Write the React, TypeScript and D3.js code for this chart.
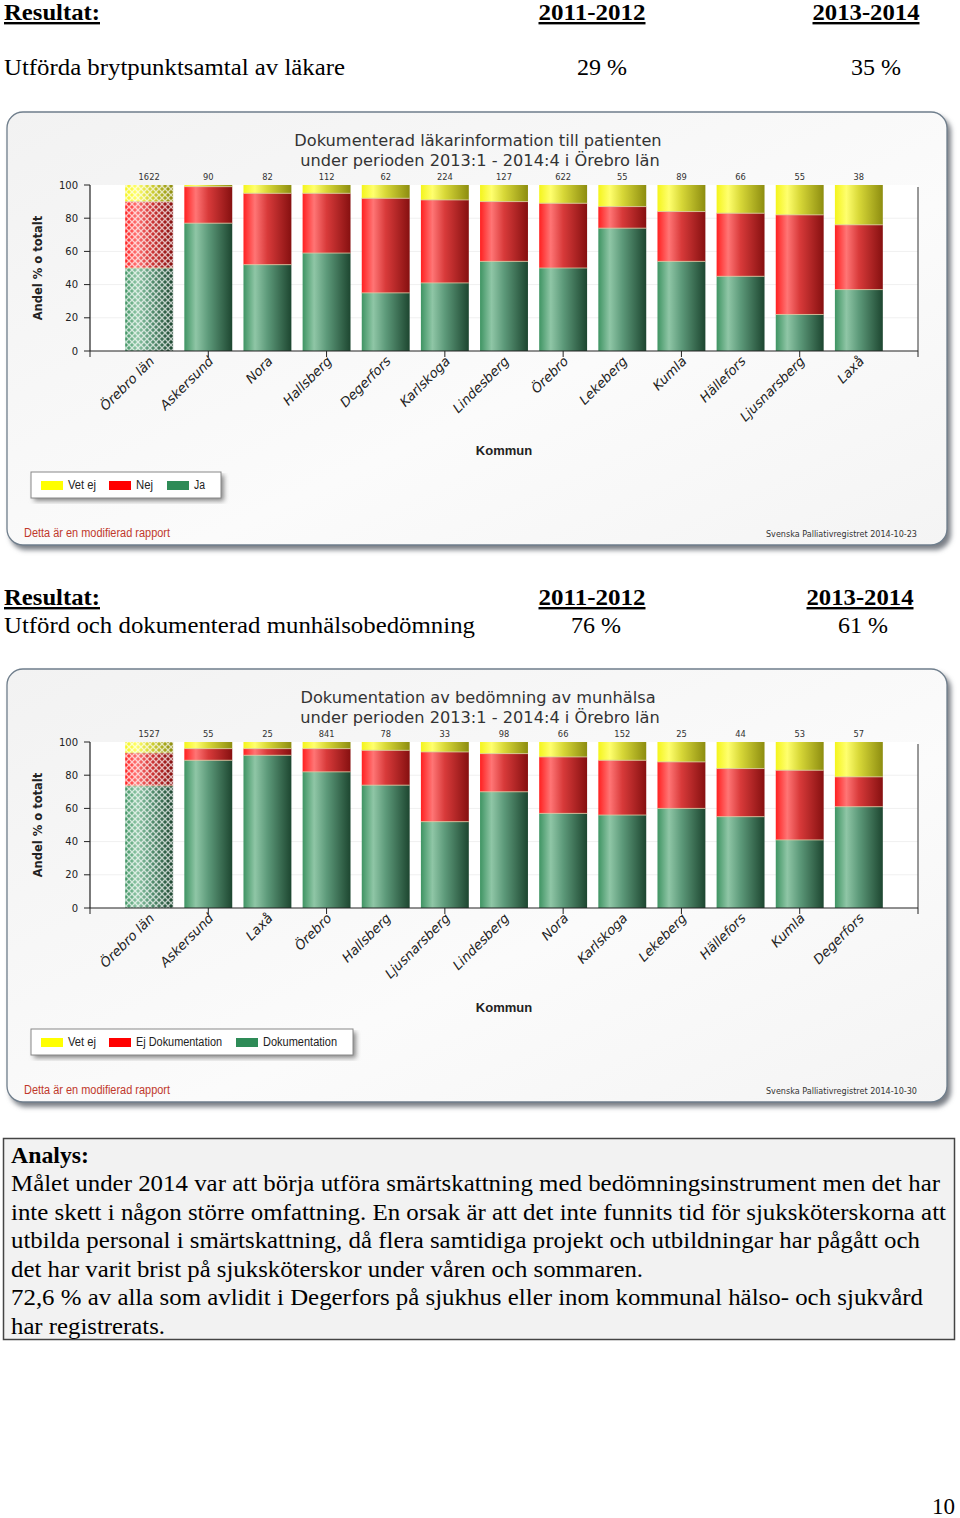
import React from "react";
import * as d3 from "d3";

// ---------- Data ----------
const categories1 = ["Örebro län", "Askersund", "Nora", "Hallsberg", "Degerfors", "Karlskoga", "Lindesberg", "Örebro", "Lekeberg", "Kumla", "Hällefors", "Ljusnarsberg", "Laxå"];
const ja1 = [50, 77, 52, 59, 35, 41, 54, 50, 74, 54, 45, 22, 37];
const nej1 = [40, 22, 43, 36, 57, 50, 36, 39, 13, 30, 38, 60, 39];
const vetej1 = [10, 1, 5, 5, 8, 9, 10, 11, 13, 16, 17, 18, 24];
const counts1 = [1622, 90, 82, 112, 62, 224, 127, 622, 55, 89, 66, 55, 38];

const categories2 = ["Örebro län", "Askersund", "Laxå", "Örebro", "Hallsberg", "Ljusnarsberg", "Lindesberg", "Nora", "Karlskoga", "Lekeberg", "Hällefors", "Kumla", "Degerfors"];
const dok2 = [73.6, 89, 92, 82, 74, 52, 70, 57, 56, 60, 55, 41, 61];
const ejdok2 = [19.8, 7, 4, 14, 21, 42, 23, 34, 33, 28, 29, 42, 18];
const vetej2 = [6.6, 4, 4, 4, 5, 6, 7, 9, 11, 12, 16, 17, 21];
const counts2 = [1527, 55, 25, 841, 78, 33, 98, 66, 152, 25, 44, 53, 57];

const yTicks = [0, 20, 40, 60, 80, 100];

const analysLines = [
  "Målet under 2014 var att börja utföra smärtskattning med bedömningsinstrument men det har",
  "inte skett i någon större omfattning. En orsak är att det inte funnits tid för sjuksköterskorna att",
  "utbilda personal i smärtskattning, då flera samtidiga projekt och utbildningar har pågått och",
  "det har varit brist på sjuksköterskor under våren och sommaren.",
  "72,6 % av alla som avlidit i Degerfors på sjukhus eller inom kommunal hälso- och sjukvård",
  "har registrerats.",
];
const analysWidths = [929, 935, 909, 632, 912, 154];

// ---------- Styles ----------
const SERIF = "'Liberation Serif', 'Times New Roman', serif";
const VERD = "'DejaVu Sans', Verdana, sans-serif";
const NARROW = "'Liberation Sans Narrow', 'Arial Narrow', 'Liberation Sans', sans-serif";
const ARIAL = "'Liberation Sans', Arial, sans-serif";

type ChartProps = {
  top: number;
  idp: string;
  title: [string, string];
  cats: string[];
  a: number[];
  b: number[];
  c: number[];
  counts: number[];
  legend: [string, string, string];
  legendX: [number, number, number];
  legendTL: [number, number, number];
  legendW: number;
  date: string;
};

function Chart(p: ChartProps) {
  const T = p.top;
  const x = d3.scaleLinear().domain([0, p.cats.length + 1]).range([90, 918]);
  const y = d3.scaleLinear().domain([0, 100]).range([T + 239, T + 73]);
  const step = x(1) - x(0);
  const bw = step * 0.81;
  const rows = p.cats.map((cat, i) => ({ cat, a: p.a[i], b: p.b[i], c: p.c[i] }));
  const stack = d3.stack<any>().keys(["a", "b", "c"])(rows);
  const fills = [`url(#${p.idp}g)`, `url(#${p.idp}r)`, `url(#${p.idp}y)`];
  const legendColors = ["#ffff00", "#ff0000", "#2e8b57"];
  const xTicks = d3.range(0, p.cats.length + 2, 2);
  return (
    <g>
      <defs>
        <linearGradient id={`${p.idp}g`} x1="0" x2="1" y1="0" y2="0">
          <stop offset="0" stopColor="#3f9463" />
          <stop offset="0.24" stopColor="#8fc6a6" />
          <stop offset="0.5" stopColor="#5d9a7a" />
          <stop offset="1" stopColor="#1d4630" />
        </linearGradient>
        <linearGradient id={`${p.idp}r`} x1="0" x2="1" y1="0" y2="0">
          <stop offset="0" stopColor="#ff2020" />
          <stop offset="0.24" stopColor="#ff7575" />
          <stop offset="0.5" stopColor="#d83a3a" />
          <stop offset="1" stopColor="#861010" />
        </linearGradient>
        <linearGradient id={`${p.idp}y`} x1="0" x2="1" y1="0" y2="0">
          <stop offset="0" stopColor="#f4f41c" />
          <stop offset="0.24" stopColor="#ffff6e" />
          <stop offset="0.5" stopColor="#d8d838" />
          <stop offset="1" stopColor="#8d8d10" />
        </linearGradient>
        <pattern id={`${p.idp}h`} width="6" height="6" patternUnits="userSpaceOnUse">
          <path d="M0,0 L6,6 M6,0 L0,6" stroke="#ffffff" strokeWidth="1.3" strokeOpacity="0.7" />
        </pattern>
        <filter id={`${p.idp}s`} x="-5%" y="-5%" width="110%" height="115%">
          <feGaussianBlur stdDeviation="2.5" />
        </filter>
        <linearGradient id={`${p.idp}bg`} x1="0" x2="1" y1="0" y2="1">
          <stop offset="0" stopColor="#f2f2f2" />
          <stop offset="0.6" stopColor="#fbfbfb" />
          <stop offset="1" stopColor="#f4f4f4" />
        </linearGradient>
      </defs>
      {/* frame */}
      <rect x={10} y={T + 4} width={941} height={434} rx={16} fill="#7a7f86" filter={`url(#${p.idp}s)`} />
      <rect x={7} y={T} width={940} height={433} rx={16} fill={`url(#${p.idp}bg)`} stroke="#6f7e8c" strokeWidth={1.3} />
      {/* title */}
      <text x={478} y={T + 34} textAnchor="middle" fontFamily={VERD} fontSize={16.2} fill="#333">{p.title[0]}</text>
      <text x={480} y={T + 54} textAnchor="middle" fontFamily={VERD} fontSize={16.2} fill="#333">{p.title[1]}</text>
      {/* plot area */}
      <rect x={90} y={y(100)} width={828} height={y(0) - y(100)} fill="#ffffff" />
      {yTicks.filter((t) => t > 0 && t < 100).map((t) => (
        <line key={t} x1={90} x2={918} y1={y(t)} y2={y(t)} stroke="#f0f0f0" />
      ))}
      {/* bars */}
      {stack.map((layer, li) =>
        layer.map((d, i) => (
          <g key={`${li}-${i}`}>
            <rect x={x(i + 1) - bw / 2} y={y(d[1])} width={bw} height={Math.max(0, y(d[0]) - y(d[1]))} fill={fills[li]} />
            {li > 0 && d[1] - d[0] > 0 && (
              <line x1={x(i + 1) - bw / 2} x2={x(i + 1) + bw / 2} y1={y(d[0])} y2={y(d[0])} stroke="#d9c9a0" strokeWidth={1} strokeOpacity={0.8} />
            )}
            {i === 0 && (
              <rect x={x(i + 1) - bw / 2} y={y(d[1])} width={bw} height={Math.max(0, y(d[0]) - y(d[1]))} fill={`url(#${p.idp}h)`} />
            )}
          </g>
        ))
      )}
      {/* counts */}
      {p.counts.map((n, i) => (
        <text key={i} x={x(i + 1)} y={y(100) - 5} textAnchor="middle" fontFamily={VERD} fontSize={8.3} fill="#333">{n}</text>
      ))}
      {/* axes */}
      <line x1={90} x2={90} y1={y(100)} y2={y(0)} stroke="#222" strokeWidth={1.2} />
      <line x1={918} x2={918} y1={y(100) + 2} y2={y(0)} stroke="#555" strokeWidth={1.2} />
      <line x1={90} x2={918} y1={y(0)} y2={y(0)} stroke="#222" strokeWidth={1.2} />
      {yTicks.map((t) => (
        <g key={t}>
          <line x1={84} x2={90} y1={y(t)} y2={y(t)} stroke="#222" />
          <text x={78} y={y(t) + 3.5} textAnchor="end" fontFamily={VERD} fontSize={10} fill="#222">{t}</text>
        </g>
      ))}
      {xTicks.map((t) => (
        <line key={t} x1={x(t)} x2={x(t)} y1={y(0)} y2={y(0) + 6} stroke="#222" />
      ))}
      <text transform={`translate(42,${T + 156}) rotate(-90)`} textAnchor="middle" fontFamily={VERD} fontWeight="bold" fontSize={11.5} fill="#222">Andel % o totalt</text>
      {p.cats.map((c, i) => (
        <text key={c} transform={`translate(${x(i + 1) + 6},${y(0) + 11}) rotate(-45)`} textAnchor="end" fontFamily={VERD} fontStyle="italic" fontSize={13.2} fill="#222">{c}</text>
      ))}
      <text x={504} y={T + 343} textAnchor="middle" fontFamily={ARIAL} fontWeight="bold" fontSize={13} fill="#222">Kommun</text>
      {/* legend */}
      <rect x={34} y={T + 363} width={p.legendW} height={26} fill="#888" filter={`url(#${p.idp}s)`} />
      <rect x={31} y={T + 360} width={p.legendW} height={26} fill="#fff" stroke="#888" />
      {p.legend.map((l, i) => (
        <g key={l}>
          <rect x={p.legendX[i]} y={T + 369} width={22} height={9} fill={legendColors[i]} />
          <text x={p.legendX[i] + 27} y={T + 377} fontFamily={NARROW} fontSize={12} fill="#222" textLength={p.legendTL[i]} lengthAdjust="spacingAndGlyphs">{l}</text>
        </g>
      ))}
      {/* footers */}
      <text x={24} y={T + 425} fontFamily={NARROW} fontSize={12} fill="#c0392b" textLength={146} lengthAdjust="spacingAndGlyphs">Detta är en modifierad rapport</text>
      <text x={917} y={T + 425} textAnchor="end" fontFamily={VERD} fontSize={8} fill="#333" textLength={151} lengthAdjust="spacingAndGlyphs">{`Svenska Palliativregistret ${p.date}`}</text>
    </g>
  );
}

function Header({ y1, y2, label, labelW, v1, v2, c1, c2, h1, h2 }: { y1: number; y2: number; label: string; labelW: number; v1: string; v2: string; c1: number; c2: number; h1: number; h2: number }) {
  return (
    <g fontFamily={SERIF} fill="#000">
      <text x={4} y={y1} fontSize={24} fontWeight="bold" textDecoration="underline" textLength={96} lengthAdjust="spacingAndGlyphs">Resultat:</text>
      <text x={h1} y={y1} fontSize={24} fontWeight="bold" textAnchor="middle" textDecoration="underline" textLength={107} lengthAdjust="spacingAndGlyphs">2011-2012</text>
      <text x={h2} y={y1} fontSize={24} fontWeight="bold" textAnchor="middle" textDecoration="underline" textLength={107} lengthAdjust="spacingAndGlyphs">2013-2014</text>
      <text x={4} y={y2} fontSize={24} textLength={labelW} lengthAdjust="spacingAndGlyphs">{label}</text>
      <text x={c1} y={y2} fontSize={24} textAnchor="middle">{v1}</text>
      <text x={c2} y={y2} fontSize={24} textAnchor="middle">{v2}</text>
    </g>
  );
}

export default function App() {
  return (
    <svg width={960} height={1518} style={{ position: "absolute", left: 0, top: 0, background: "#fff" }}>
      <rect width={960} height={1518} fill="#fff" />
      <Header y1={20} y2={75} label="Utförda brytpunktsamtal av läkare" labelW={341} v1="29 %" v2="35 %" c1={602} c2={876} h1={592} h2={866} />
      <Chart
        top={112}
        idp="c1"
        title={["Dokumenterad läkarinformation till patienten", "under perioden 2013:1 - 2014:4 i Örebro län"]}
        cats={categories1}
        a={ja1}
        b={nej1}
        c={vetej1}
        counts={counts1}
        legend={["Vet ej", "Nej", "Ja"]}
        legendX={[41, 109, 167]}
        legendTL={[28, 17, 11]}
        legendW={190}
        date="2014-10-23"
      />
      <Header y1={605} y2={633} label="Utförd och dokumenterad munhälsobedömning" labelW={471} v1="76 %" v2="61 %" c1={596} c2={863} h1={592} h2={860} />
      <Chart
        top={669}
        idp="c2"
        title={["Dokumentation av bedömning av munhälsa", "under perioden 2013:1 - 2014:4 i Örebro län"]}
        cats={categories2}
        a={dok2}
        b={ejdok2}
        c={vetej2}
        counts={counts2}
        legend={["Vet ej", "Ej Dokumentation", "Dokumentation"]}
        legendX={[41, 109, 236]}
        legendTL={[28, 86, 74]}
        legendW={322}
        date="2014-10-30"
      />
      {/* Analys box */}
      <rect x={3.5} y={1138.5} width={951} height={201} fill="#f2f2f2" stroke="#444" strokeWidth={1.5} />
      <text x={11} y={1163} fontFamily={SERIF} fontSize={24} fontWeight="bold" textLength={78} lengthAdjust="spacingAndGlyphs">Analys:</text>
      {analysLines.map((l, i) => (
        <text key={i} x={11} y={1191 + i * 28.6} fontFamily={SERIF} fontSize={24} textLength={analysWidths[i]} lengthAdjust="spacingAndGlyphs">{l}</text>
      ))}
      <text x={955} y={1514} textAnchor="end" fontFamily={SERIF} fontSize={23}>10</text>
    </svg>
  );
}
